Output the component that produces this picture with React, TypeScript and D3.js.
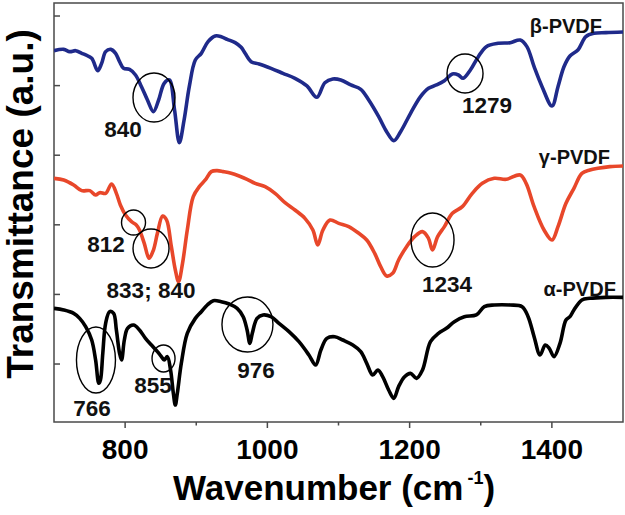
import React from "react";
import * as d3 from "d3";

// ---- data (wavenumber cm^-1, transmittance a.u.) ----
const betaPVDF: [number, number][] = [
  [700, 5.335], [713.7, 5.354], [722.1, 5.321], [730.5, 5.335], [739, 5.297], [744.5, 5.273],
  [753, 5.225], [761.4, 5.048], [767, 5.153], [772.6, 5.321], [779.9, 5.354], [786.6, 5.297],
  [792.2, 5.177], [797.8, 5.081], [806.2, 5.067], [814.6, 4.986], [823, 4.818], [831.4, 4.626],
  [839.8, 4.459], [847.1, 4.626], [854.9, 4.866], [862.2, 4.914], [869.5, 4.483], [876.2, 4.013],
  [882.9, 4.339], [890.2, 4.818], [898.7, 5.201], [907.1, 5.297], [916.6, 5.465], [926.7, 5.546],
  [935.1, 5.536], [943.5, 5.498], [954.7, 5.45], [963.1, 5.383], [968.7, 5.297], [977.1, 5.177],
  [988.3, 5.144], [1005.1, 5.081], [1021.9, 5.01], [1038.8, 4.938], [1055.6, 4.828], [1069.6, 4.665],
  [1080.8, 4.875], [1092, 4.928], [1103.2, 4.914], [1117.3, 4.842], [1131.3, 4.78], [1142.5, 4.626],
  [1156.5, 4.387], [1167.7, 4.171], [1177.7, 4.042], [1187.3, 4.171], [1201.3, 4.435], [1215.3, 4.674],
  [1226.5, 4.794], [1237.7, 4.842], [1248.9, 4.904], [1260.1, 5.0], [1268.6, 4.986], [1275.3, 4.938],
  [1285.4, 5.057], [1296.6, 5.249], [1307.8, 5.393], [1324.6, 5.441], [1341.4, 5.45], [1355.4, 5.488],
  [1364.9, 5.393], [1375, 5.105], [1386.2, 4.818], [1400.2, 4.54], [1408.6, 4.818], [1417, 5.105],
  [1425.4, 5.259], [1436.6, 5.345], [1447.8, 5.536], [1459, 5.584], [1475.9, 5.594], [1500, 5.603],
];

const gammaPVDF: [number, number][] = [
  [700, 3.501], [713.7, 3.477], [727.7, 3.405], [739, 3.324], [750.2, 3.324], [758.5, 3.261],
  [764.2, 3.295], [772.6, 3.285], [781, 3.42], [787.7, 3.285], [793.3, 3.118], [800.6, 2.974],
  [809, 2.878], [815.7, 2.83], [820.2, 2.759], [826.9, 2.567], [833.7, 2.352], [839.8, 2.471],
  [845.4, 2.711], [852.7, 2.96], [858.3, 2.902], [865, 2.519], [870.6, 2.184], [875.1, 2.016],
  [880.7, 2.28], [887.4, 2.759], [895.8, 3.238], [904.3, 3.381], [912.7, 3.477], [921.1, 3.597],
  [929.5, 3.611], [937.9, 3.597], [949.1, 3.573], [960.3, 3.534], [971.5, 3.487], [982.8, 3.429],
  [996.8, 3.381], [1010.8, 3.285], [1024.8, 3.151], [1038.8, 3.046], [1052.8, 2.926], [1064, 2.759],
  [1070.8, 2.543], [1078.1, 2.759], [1088.1, 2.902], [1100.4, 2.854], [1114.4, 2.807], [1128.5, 2.711],
  [1139.7, 2.615], [1150.9, 2.423], [1159.3, 2.232], [1167.7, 2.098], [1176.1, 2.136], [1184.5, 2.328],
  [1195.7, 2.519], [1206.9, 2.663], [1218.1, 2.735], [1226.5, 2.639], [1232.1, 2.471], [1239.4, 2.663],
  [1248.9, 2.807], [1260.1, 2.998], [1274.1, 3.094], [1288.1, 3.285], [1302.2, 3.429], [1319, 3.501],
  [1335.8, 3.487], [1355.4, 3.549], [1363.8, 3.429], [1375, 3.094], [1389, 2.759], [1400.2, 2.615],
  [1408.6, 2.807], [1419.8, 3.142], [1431, 3.357], [1442.2, 3.573], [1453.5, 3.621], [1464.7, 3.645],
  [1481.5, 3.669], [1500, 3.678],
];

const alphaPVDF: [number, number][] = [
  [700, 1.633], [713.7, 1.609], [727.7, 1.561], [736.1, 1.489], [744.5, 1.37], [753, 1.178],
  [758.5, 0.891], [763, 0.556], [765.3, 0.603], [768.6, 0.987], [772.6, 1.418], [778.2, 1.585],
  [783.8, 1.561], [787.7, 1.322], [792.2, 0.987], [795, 0.891], [798.9, 1.178], [803.4, 1.346],
  [811.8, 1.394], [820.2, 1.322], [828.6, 1.202], [837, 1.106], [845.4, 1.011], [851, 0.939],
  [854.9, 0.891], [859.4, 0.939], [863.9, 0.747], [867.8, 0.412], [870.6, 0.244], [873.4, 0.412],
  [879, 0.843], [887.4, 1.274], [898.7, 1.489], [907.1, 1.585], [915.5, 1.681], [924, 1.743],
  [935.1, 1.729], [946.3, 1.695], [957.5, 1.633], [966, 1.513], [971.5, 1.322], [975.4, 1.13],
  [978.8, 1.274], [985.5, 1.489], [993.9, 1.538], [1005.1, 1.513], [1016.3, 1.418], [1030.4, 1.298],
  [1044.4, 1.154], [1058.4, 0.963], [1067.9, 0.819], [1075.2, 1.034], [1083.6, 1.202], [1094.8, 1.226],
  [1106, 1.178], [1120.1, 1.106], [1131.3, 1.011], [1139.7, 0.843], [1148.1, 0.675], [1155.4, 0.747],
  [1162.1, 0.651], [1170.5, 0.46], [1177.7, 0.34], [1184.5, 0.508], [1192.9, 0.651], [1201.3, 0.699],
  [1209.7, 0.627], [1218.1, 0.747], [1229.3, 1.154], [1240.5, 1.274], [1251.7, 1.346], [1262.9, 1.442],
  [1276.9, 1.513], [1293.8, 1.538], [1305, 1.657], [1319, 1.681], [1341.4, 1.681], [1358.2, 1.657],
  [1366.6, 1.513], [1375, 1.226], [1383.4, 0.963], [1390.7, 1.106], [1396.3, 1.058], [1403, 0.939],
  [1411.4, 1.13], [1419.8, 1.466], [1425.4, 1.513], [1431, 1.609], [1442.2, 1.753], [1453.5, 1.777],
  [1475.9, 1.791], [1500, 1.791],
];

const seriesNames = ["β-PVDF", "γ-PVDF", "α-PVDF"];
const seriesLabelPos: [number, number][] = [[1470.5, 5.589], [1481.7, 3.707], [1490, 1.81]];

// marked bands: label, circle centre (wn, T), label anchor (wn, T)
const bandLabels = ["840", "1279", "812", "833; 840", "1234", "766", "855", "976"];
const bandCircles: [number, number][] = [
  [840.6, 4.662], [1277.9, 5.007], [811.8, 2.866], [836.4, 2.493],
  [1232.2, 2.615], [759, 0.891], [854, 0.912], [972, 1.401],
];
const bandLabelPos: [number, number][] = [
  [797, 4.095], [1308.8, 4.44], [773.1, 2.443], [836.4, 1.782],
  [1252.5, 1.868], [753.4, 0.086], [839.2, 0.417], [984, 0.632],
];

const xMajorTicks = [800, 1000, 1200, 1400];
const xMinorTicks = [900, 1100, 1300];
const yTicks = [0.833, 1.833, 2.833, 3.833, 4.833, 5.833];

// ---- styling ----
const W = 625, H = 515;
const L = 54, R = 623, T = 3, B = 422;
const colors = ["#1f2a8a", "#e8472a", "#000000"];
const circleR: [number, number][] = [
  [21, 24.5], [18, 19.5], [12, 12.5], [18, 19.5], [21.5, 27], [19.5, 33], [11.5, 13.5], [25.5, 27.5],
];
const FONT = "'Liberation Sans', Arial, Helvetica, sans-serif";

export default function App() {
  const x = d3.scaleLinear().domain([700, 1500]).range([L, R]);
  const y = d3.scaleLinear().domain([0, 6.02]).range([B, T]);
  const line = d3
    .line<[number, number]>()
    .x((d) => x(d[0]))
    .y((d) => y(d[1]))
    .curve(d3.curveCatmullRom.alpha(0.5));
  const allSeries = [betaPVDF, gammaPVDF, alphaPVDF];
  const axisColor = "#4a4a4a";

  return (
    <svg
      width={W}
      height={H}
      style={{ position: "absolute", left: 0, top: 0, background: "#fff" }}
      fontFamily={FONT}
      fontWeight="bold"
    >
      <defs>
        <clipPath id="plot">
          <rect x={L} y={T} width={R - L} height={B - T} />
        </clipPath>
      </defs>
      {/* frame */}
      <rect x={L} y={T} width={R - L} height={B - T} fill="none" stroke={axisColor} strokeWidth={1.5} />
      {/* y ticks (inside) */}
      {yTicks.map((t) => (
        <line key={t} x1={L} x2={L + 6} y1={y(t)} y2={y(t)} stroke={axisColor} strokeWidth={1.5} />
      ))}
      {/* x ticks */}
      {xMajorTicks.map((t) => (
        <g key={t}>
          <line x1={x(t)} x2={x(t)} y1={B} y2={B + 6} stroke={axisColor} strokeWidth={1.5} />
          <text x={x(t)} y={459} textAnchor="middle" fontSize={28} fill="#000">
            {t}
          </text>
        </g>
      ))}
      {xMinorTicks.map((t) => (
        <line key={t} x1={x(t)} x2={x(t)} y1={B} y2={B + 3.5} stroke={axisColor} strokeWidth={1.5} />
      ))}
      {/* curves */}
      <g clipPath="url(#plot)">
        {allSeries.map((s, i) => (
          <path key={i} d={line(s) || ""} fill="none" stroke={colors[i]} strokeWidth={3.6} strokeLinejoin="round" />
        ))}
      </g>
      {/* band circles */}
      {bandCircles.map((c, i) => (
        <ellipse
          key={i}
          cx={x(c[0])}
          cy={y(c[1])}
          rx={circleR[i][0]}
          ry={circleR[i][1]}
          fill="none"
          stroke="#000"
          strokeWidth={1.4}
        />
      ))}
      {/* band labels */}
      {bandLabels.map((lab, i) => (
        <text key={i} x={x(bandLabelPos[i][0])} y={y(bandLabelPos[i][1])} textAnchor="middle" fontSize={22.5} fill="#111">
          {lab}
        </text>
      ))}
      {/* series labels */}
      {seriesNames.map((n, i) => (
        <text key={n} x={x(seriesLabelPos[i][0])} y={y(seriesLabelPos[i][1])} textAnchor="end" fontSize={20} fill="#111">
          {n}
        </text>
      ))}
      {/* axis titles */}
      <text x={173} y={500} fontSize={35} fill="#000">
        Wavenumber (cm
        <tspan fontSize={18} dx={4} dy={-16}>-1</tspan>
        <tspan dy={16}>)</tspan>
      </text>
      <text transform={`translate(33, ${204}) rotate(-90)`} textAnchor="middle" fontSize={37} fill="#000">
        Transmittance (a.u.)
      </text>
    </svg>
  );
}
